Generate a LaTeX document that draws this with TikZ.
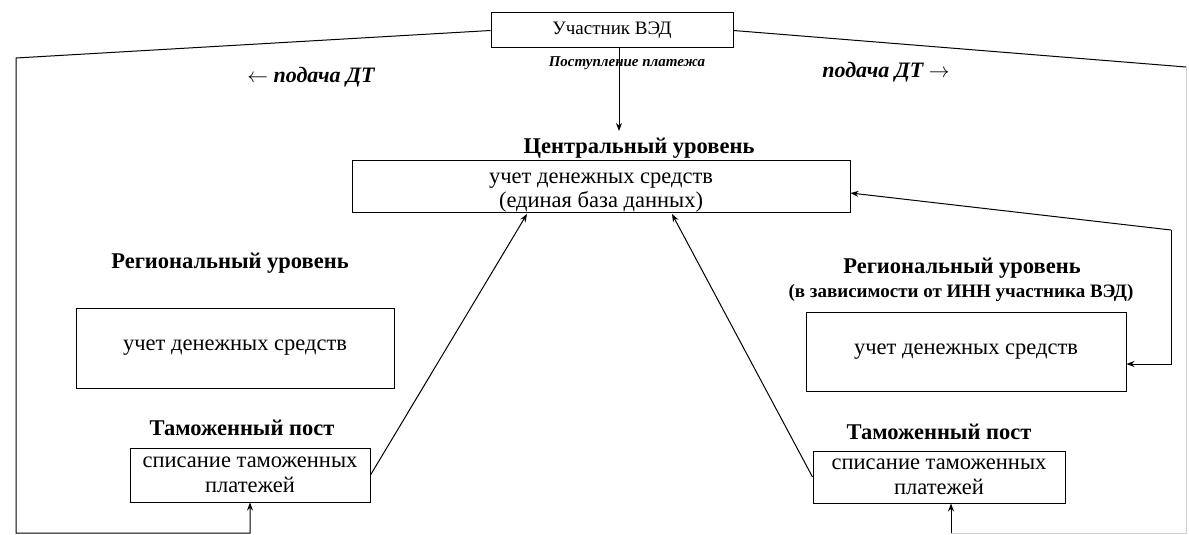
\documentclass[tikz,border=0pt]{standalone}
\usepackage{fontspec}
\setmainfont{Liberation Serif}
\usetikzlibrary{arrows.meta}
\begin{document}
\begin{tikzpicture}[x=1pt,y=-1pt,
  ln/.style={line width=1pt},
  faint/.style={line width=0.8pt, black!18},
  arr/.style={line width=1pt, -{Stealth[length=8pt,width=6pt]}},
  box/.style={draw, line width=1pt, inner sep=0pt, align=center, font=\fontsize{22.5}{25}\selectfont},
  frame/.style={draw, line width=1pt, inner sep=0pt},
  boxtext/.style={inner sep=0pt, align=center, font=\fontsize{22.5}{24}\selectfont},
  topbox/.style={draw, line width=1pt, inner sep=0pt, align=center, font=\fontsize{19}{22}\selectfont},
  ttl/.style={inner sep=0pt, font=\bfseries\fontsize{22.5}{25}\selectfont},
  subttl/.style={inner sep=0pt, font=\bfseries\fontsize{19}{22}\selectfont},
  itl/.style={inner sep=0pt, font=\bfseries\itshape\fontsize{15}{18}\selectfont},
  lbl/.style={inner sep=0pt, font=\bfseries\itshape\fontsize{22}{25}\selectfont}]
\useasboundingbox[fill=white] (0,0) rectangle (1189,535);

% nodes
\node[topbox, minimum width=242, minimum height=35] (ved) at (612,30.5) {Участник ВЭД};
\node[itl] (post) at (627,63) {Поступление платежа};
\node[lbl] (dtl) at (311,77) {$\leftarrow$ подача ДТ};
\node[lbl] (dtr) at (886,72) {подача ДТ $\rightarrow$};
\node[ttl] (ctitle) at (639,148) {Центральный уровень};
\node[frame, minimum width=498, minimum height=52] (central) at (601,186) {};
\node[boxtext] (ctext) at (601,193) {учет денежных средств\\(единая база данных)};

\node[ttl] (rtl) at (230,263) {Региональный уровень};
\node[box, minimum width=318, minimum height=80] (regl) at (235,348) {учет денежных средств};
\node[ttl] (tpl) at (242,428) {Таможенный пост};
\node[box, minimum width=240, minimum height=54] (cusl) at (250,475) {списание таможенных\\платежей};

\node[ttl] (rtr) at (962,268) {Региональный уровень};
\node[subttl] (rsub) at (961,293) {(в зависимости от ИНН участника ВЭД)};
\node[box, minimum width=320, minimum height=79] (regr) at (966,351.5) {учет денежных средств};
\node[ttl] (tpr) at (939,432) {Таможенный пост};
\node[box, minimum width=252, minimum height=52] (cusr) at (939,477) {списание таможенных\\платежей};

% helper coordinates
\coordinate (lc1) at (16,58);
\coordinate (lc2) at (16,533);
\coordinate (lc3) at (250,533);
\coordinate (rc1) at (1186,67);
\coordinate (rc2) at (1186,533);
\coordinate (rc3) at (951,533);
\coordinate (vt) at (619,131);
\coordinate (cinl) at (527,214);
\coordinate (cinr) at (672,214);
\coordinate (rk) at (1171,230);
\coordinate (ry) at ([yshift=-12.5pt]regr.east);

% connectors
\draw[arr] (ved.west) -- (lc1) -- (lc2) -- (lc3) -- (lc3 |- cusl.south);
\draw[ln] (ved.east) -- (rc1);
\draw[faint] (rc1) -- (rc2) -- (rc3);
\draw[arr] (rc3) -- (rc3 |- cusr.south);
\draw[arr] (ved.south -| vt) -- (vt);
\draw[arr] (cusl.east) -- (cinl);
\draw[arr] (cusr.west) -- (cinr);
\draw[arr] (rk) -- ([yshift=-7pt]central.east);
\draw[arr] (rk) -- (rk |- ry) -- (ry);
\end{tikzpicture}
\end{document}
